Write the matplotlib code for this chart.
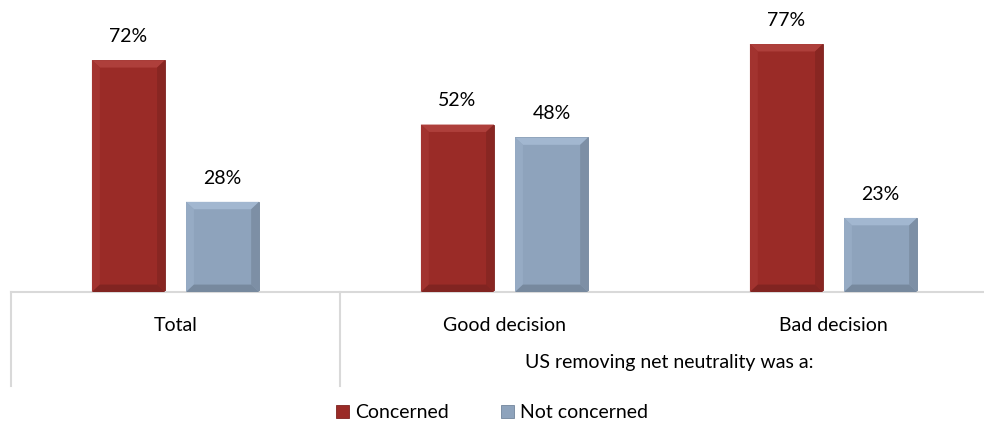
import matplotlib
matplotlib.use("Agg")
import matplotlib.pyplot as plt
from matplotlib.patches import Polygon
import numpy as np

categories = ["Total", "Good decision", "Bad decision"]
concerned = [72, 52, 77]
not_concerned = [28, 48, 23]
group_label = "US removing net neutrality was a:"
series_names = ["Concerned", "Not concerned"]

plt.rcParams['font.family'] = ['Lato', 'DejaVu Sans']

red = '#9a2b27'
blue = '#8ea3bc'
fs = 14


def add_bevel(ax, bar, base_color):
    # fake the Excel bevel look with light/dark side trapezoids
    x0, y0 = bar.get_x(), bar.get_y()
    w, h = bar.get_width(), bar.get_height()
    dx, dy = 0.024, 2.3
    x1, y1 = x0 + w, y0 + h
    rgb = np.array(matplotlib.colors.to_rgb(base_color))
    light = np.clip(rgb + 0.08, 0, 1)
    lighter = np.clip(rgb + 0.03, 0, 1)
    dark = rgb * 0.88
    darker = rgb * 0.84
    sides = [
        ([(x0, y1), (x1, y1), (x1 - dx, y1 - dy), (x0 + dx, y1 - dy)], light),
        ([(x0, y0), (x0, y1), (x0 + dx, y1 - dy), (x0 + dx, y0 + dy)], lighter),
        ([(x1, y0), (x1, y1), (x1 - dx, y1 - dy), (x1 - dx, y0 + dy)], dark),
        ([(x0, y0), (x1, y0), (x1 - dx, y0 + dy), (x0 + dx, y0 + dy)], darker),
    ]
    for pts, c in sides:
        ax.add_patch(Polygon(pts, closed=True, facecolor=c, edgecolor='none', zorder=3))


fig = plt.figure(figsize=(9.84, 4.33), dpi=100)
ax = fig.add_axes([11 / 984, 141 / 433, 987 / 984, 257.6 / 433])

x = np.arange(len(categories))
w = 0.222
off = 0.143
bars1 = ax.bar(x - off, concerned, w, color=red, edgecolor='#7e221f', linewidth=0.6, zorder=2, label=series_names[0])
bars2 = ax.bar(x + off, not_concerned, w, color=blue, edgecolor='#72859c', linewidth=0.6, zorder=2, label=series_names[1])

for b in bars1:
    add_bevel(ax, b, red)
for b in bars2:
    add_bevel(ax, b, blue)

for bars, vals in [(bars1, concerned), (bars2, not_concerned)]:
    for b, v in zip(bars, vals):
        ax.annotate(f"{v}%", (b.get_x() + b.get_width() / 2, v), xytext=(0, 11),
                    textcoords='offset points', ha='center', va='bottom', fontsize=fs)

ax.set_xlim(-0.5, 2.5)
ax.set_ylim(0, 80)
ax.set_yticks([])
ax.set_xticks([])
for s in ['top', 'right', 'left']:
    ax.spines[s].set_visible(False)
ax.spines['bottom'].set_color('#d9d9d9')
ax.spines['bottom'].set_linewidth(1.5)

# multi-level category axis
trans = ax.get_xaxis_transform()
for i, c in enumerate(categories):
    ax.annotate(c, (i, 0), xycoords=trans, xytext=(0, -24), textcoords='offset points',
                ha='center', va='center', fontsize=fs)
ax.annotate(group_label, ((1 + 2) / 2, 0), xycoords=trans, xytext=(0, -51), textcoords='offset points',
            ha='center', va='center', fontsize=fs)
for xv in [-0.5, 0.5]:
    ax.plot([xv, xv], [0, -0.365], transform=trans, color='#d9d9d9', lw=1.5, clip_on=False)

leg = fig.legend(loc='center', bbox_to_anchor=(0.5, 20 / 433), ncol=2, frameon=False,
                 fontsize=fs, handlelength=0.65, handleheight=0.65, handletextpad=0.3,
                 columnspacing=2.7)

fig.savefig("out.png", dpi=100)
